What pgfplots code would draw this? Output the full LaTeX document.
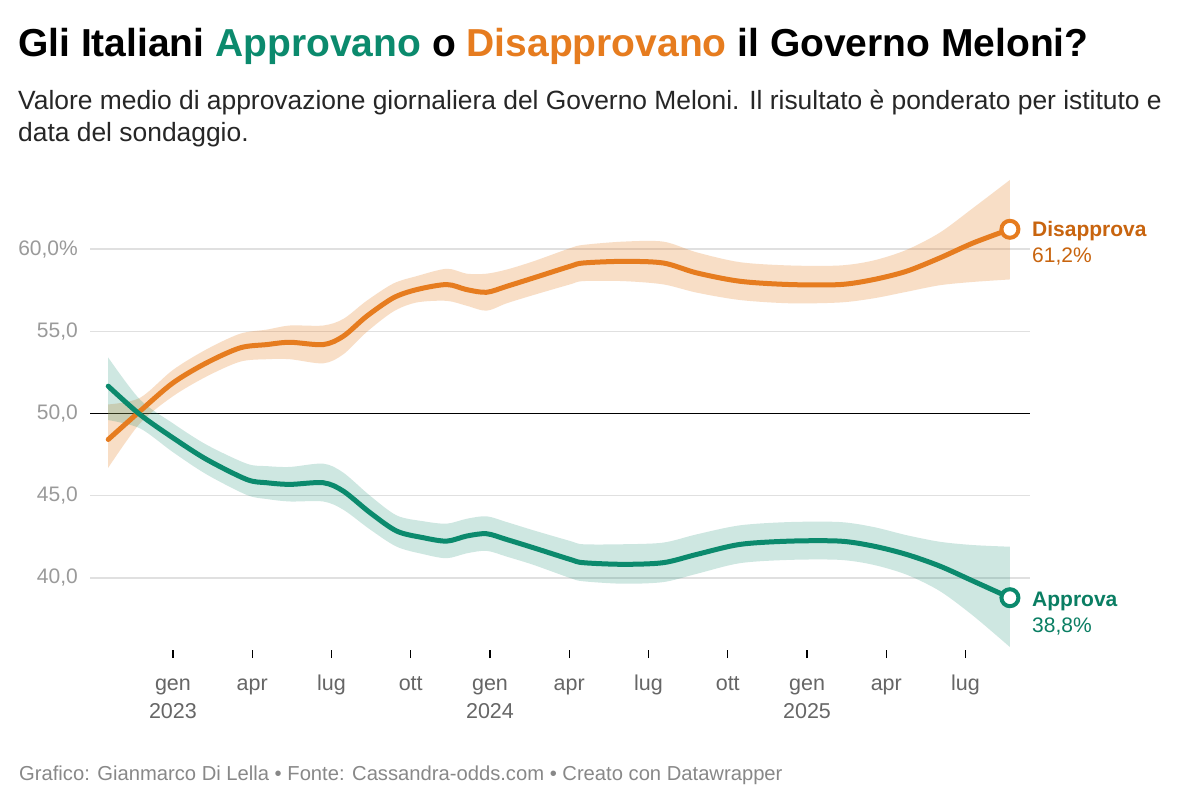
\documentclass[border=0pt]{standalone}
\usepackage{fontspec}
\setmainfont{Liberation Sans}
\usepackage{pgfplots}
\pgfplotsset{compat=1.18}
\usepackage{pgfplotstable}
\definecolor{dis}{HTML}{E67C1F}
\definecolor{disdark}{HTML}{C8640E}
\definecolor{app}{HTML}{0B8A6D}
\definecolor{appdark}{HTML}{0A7E63}
\definecolor{gridc}{HTML}{E0E0E0}
\definecolor{ylab}{HTML}{9A9A9A}
\definecolor{xlab}{HTML}{666666}
\definecolor{foot}{HTML}{888888}

\pgfplotstableread{
m v lo hi
-2.45 48.42 46.70 50.55
-1.25 50.14 49.40 50.95
0.00 51.86 51.05 52.65
1.27 53.08 52.25 53.90
2.54 53.99 53.15 54.85
3.55 54.19 53.30 55.10
4.43 54.33 53.30 55.35
5.69 54.19 53.05 55.35
6.45 54.70 53.60 55.75
7.33 55.91 54.95 56.85
8.34 57.03 56.20 57.90
9.22 57.53 56.75 58.35
10.36 57.84 56.85 58.80
11.12 57.53 56.55 58.50
11.87 57.37 56.25 58.50
12.63 57.73 56.70 58.75
13.64 58.24 57.20 59.25
15.03 58.95 57.85 60.05
15.53 59.15 58.05 60.25
17.04 59.25 58.05 60.45
18.56 59.15 57.85 60.45
19.82 58.55 57.35 59.80
21.46 58.04 56.90 59.20
23.35 57.84 56.70 59.00
25.25 57.84 56.75 59.00
26.51 58.14 57.00 59.30
27.77 58.65 57.40 59.95
29.03 59.46 57.80 61.00
30.29 60.37 58.00 62.50
31.68 61.20 58.15 64.20
}\disdata

\pgfplotstableread{
m v lo hi
-2.45 51.66 49.60 53.40
-1.25 49.94 49.10 50.85
0.00 48.52 47.65 49.40
1.27 47.21 46.30 48.10
2.79 45.99 45.05 46.95
3.55 45.79 44.80 46.80
4.43 45.69 44.65 46.75
5.69 45.79 44.65 46.95
6.45 45.28 44.15 46.40
7.46 43.97 42.95 45.00
8.47 42.85 41.90 43.80
9.47 42.45 41.45 43.45
10.36 42.24 41.20 43.30
11.12 42.55 41.50 43.60
11.87 42.69 41.65 43.75
12.63 42.34 41.30 43.40
13.64 41.84 40.80 42.90
15.03 41.13 40.00 42.25
15.53 40.93 39.80 42.05
17.04 40.83 39.65 42.05
18.56 40.93 39.75 42.15
19.82 41.43 40.25 42.65
21.46 42.04 40.90 43.20
23.35 42.24 41.10 43.40
25.25 42.24 41.10 43.40
26.51 41.94 40.80 43.10
27.77 41.43 40.20 42.60
29.03 40.72 39.20 42.20
30.29 39.81 37.70 42.00
31.68 38.80 35.80 41.90
}\appdata

\pgfplotsset{
  base/.style={
    at={(90pt,-650pt)}, anchor=south west,
    width=940pt, height=475pt, scale only axis,
    xmin=-3.14, xmax=32.44, ymin=35.62, ymax=64.5,
    clip=false,
  },
}

\begin{document}
\begin{tikzpicture}
\path[use as bounding box, fill=white] (0pt,0pt) rectangle (1200pt,-807pt);
\node[anchor=base west, inner sep=0pt, font=\fontsize{39}{44}\selectfont\bfseries] at (18pt,-56pt)
  {Gli Italiani \textcolor{app}{Approvano} o \textcolor{dis}{Disapprovano} il Governo Meloni?};
\node[anchor=base west, inner sep=0pt, font=\fontsize{26.4}{32}\selectfont, text=black!85] at (18pt,-109pt)
  {Valore medio di approvazione giornaliera del Governo Meloni. Il risultato è ponderato per istituto e};
\node[anchor=base west, inner sep=0pt, font=\fontsize{26.4}{32}\selectfont, text=black!85] at (18pt,-141pt)
  {data del sondaggio.};
\node[anchor=base west, inner sep=0pt, font=\fontsize{20.2}{24}\selectfont, text=foot] at (19pt,-780pt)
  {Grafico: Gianmarco Di Lella • Fonte: Cassandra-odds.com • Creato con Datawrapper};

% axis 1: grid, ticks, orange band
\begin{axis}[
  base,
  axis line style={draw=none},
  xtick={0,3,6,9,12,15,18,21,24,27,30},
  xticklabels={\strut gen\\2023,\strut apr,\strut lug,\strut ott,\strut gen\\2024,\strut apr,\strut lug,\strut ott,\strut gen\\2025,\strut apr,\strut lug},
  xtick pos=bottom,
  tick align=outside,
  major tick length=8pt,
  xtick style={black, line width=1.2pt},
  xticklabel style={font=\fontsize{21.5}{28.5}\selectfont, text=xlab, align=center, anchor=north, inner sep=0pt, yshift=-12pt},
  ytick={40,45,55,60},
  yticklabels={40{,}0,45{,}0,55{,}0,60{,}0\%},
  extra y ticks={50},
  extra y tick labels={50{,}0},
  extra y tick style={grid style={black, line width=1.4pt}},
  ytick style={draw=none},
  ymajorgrids,
  grid style={gridc, line width=1.2pt},
  yticklabel style={font=\fontsize{21}{24}\selectfont, text=ylab, anchor=east, inner sep=0pt, xshift=-4pt},
  ytick pos=left,
  stack plots=y,
]
\addplot[draw=none, smooth] table[x=m,y=lo]{\disdata};
\addplot[fill=dis, fill opacity=0.25, draw=none, smooth] table[x=m,y expr=\thisrow{hi}-\thisrow{lo}]{\disdata} \closedcycle;
\end{axis}

% axis 2: green band
\begin{axis}[base, hide axis, stack plots=y]
\addplot[draw=none, smooth] table[x=m,y=lo]{\appdata};
\addplot[fill=app, fill opacity=0.2, draw=none, smooth] table[x=m,y expr=\thisrow{hi}-\thisrow{lo}]{\appdata} \closedcycle;
\end{axis}

% axis 3: lines and end marks
\begin{axis}[base, hide axis]
\addplot[dis, line width=5pt, smooth, line cap=round] table[x=m,y=v]{\disdata};
\addplot[app, line width=5pt, smooth, line cap=round] table[x=m,y=v]{\appdata};
\addplot[only marks, mark=*, mark size=8.5pt, mark options={fill=white, draw=dis, line width=4pt}] coordinates {(31.68,61.2)};
\addplot[only marks, mark=*, mark size=8.5pt, mark options={fill=white, draw=app, line width=4pt}] coordinates {(31.68,38.8)};
\end{axis}

\node[anchor=base west, inner sep=0pt, font=\fontsize{21}{24}\selectfont\bfseries, text=disdark] at (1032pt,-236.5pt) {Disapprova};
\node[anchor=base west, inner sep=0pt, font=\fontsize{21}{24}\selectfont, text=disdark] at (1032pt,-262pt) {61,2\%};
\node[anchor=base west, inner sep=0pt, font=\fontsize{21}{24}\selectfont\bfseries, text=appdark] at (1032pt,-606pt) {Approva};
\node[anchor=base west, inner sep=0pt, font=\fontsize{21}{24}\selectfont, text=appdark] at (1032pt,-632pt) {38,8\%};
\end{tikzpicture}
\end{document}
